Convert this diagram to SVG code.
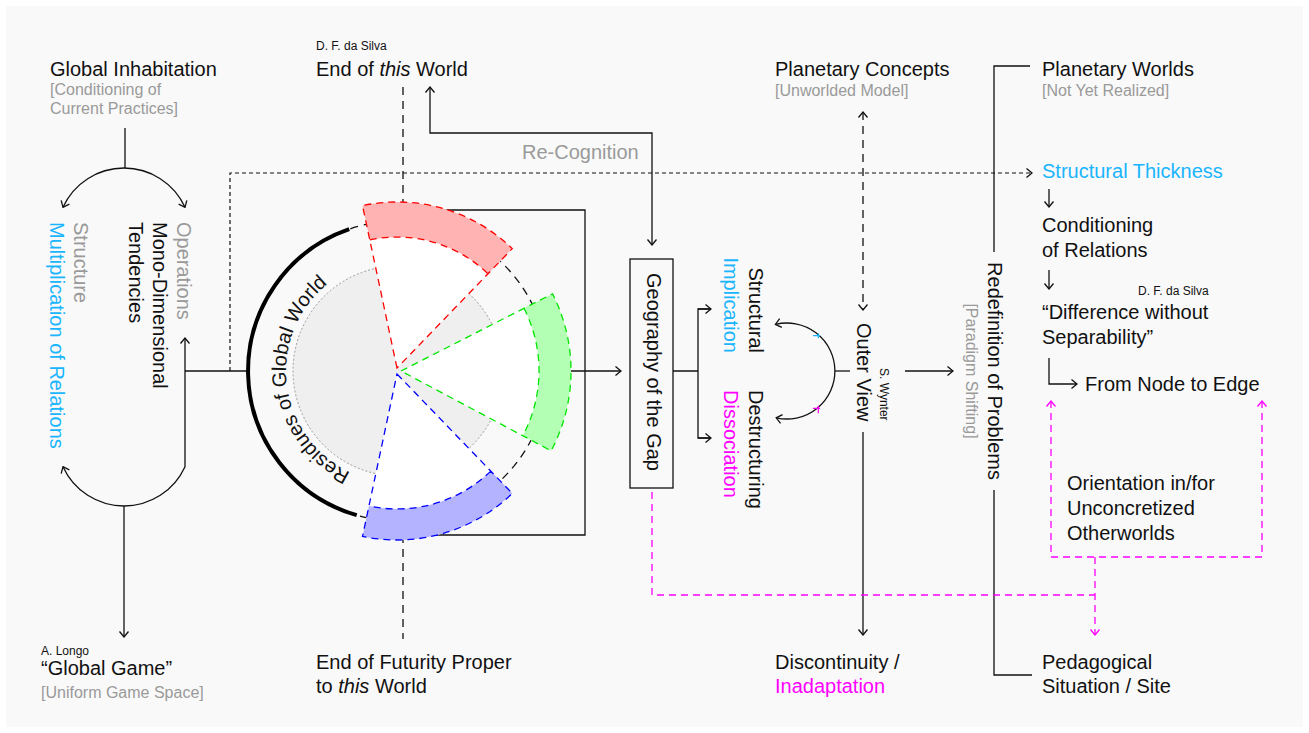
<svg xmlns="http://www.w3.org/2000/svg" width="1309" height="733" viewBox="0 0 1309 733">
<style>
text{font-family:"Liberation Sans",Arial,sans-serif;fill:#111;font-size:20px}
.g{fill:#9a9a9a}.s16{font-size:16px}.s12{font-size:12px}
.c{fill:#19b5fe}.m{fill:#ff00ff}
.ln{fill:none;stroke:#111;stroke-width:1.3}
.dot{fill:none;stroke:#111;stroke-width:1.2;stroke-dasharray:4 3}
.dsh{fill:none;stroke:#111;stroke-width:1.3;stroke-dasharray:8 6}
.mg{fill:none;stroke:#ff00ff;stroke-width:1.3;stroke-dasharray:7 5}
</style>
<defs>
<marker id="a" viewBox="-7 -6 8 12" refX="0" refY="0" markerWidth="8" markerHeight="12" markerUnits="userSpaceOnUse" orient="auto-start-reverse"><path d="M-5.5,-4.5 L0,0 L-5.5,4.5" fill="none" stroke="#111" stroke-width="1.3"/></marker>
<marker id="am" viewBox="-7 -6 8 12" refX="0" refY="0" markerWidth="8" markerHeight="12" markerUnits="userSpaceOnUse" orient="auto-start-reverse"><path d="M-5.5,-4.5 L0,0 L-5.5,4.5" fill="none" stroke="#ff00ff" stroke-width="1.3"/></marker>
<path id="resPath" d="M354.2,474.1 A112,112 0 0 1 330.6,281.6"/>
</defs>
<rect x="0" y="0" width="1309" height="733" fill="#ffffff"/>
<rect x="6" y="6" width="1297" height="721" fill="#f9f9f9"/>

<g id="connectors">
<path class="ln" d="M125,128 V168"/>
<path class="ln" d="M185,207.3 A67,67 0 0 0 63,207.3" marker-start="url(#a)" marker-end="url(#a)"/>
<path class="ln" d="M63,466.7 A67,67 0 0 0 185,466.7 V338" marker-start="url(#a)" marker-end="url(#a)"/>
<path class="ln" d="M124,506 V637" marker-end="url(#a)"/>
<path class="ln" d="M185,371 H248"/>
<path class="dot" d="M230,371 V173 H1032" marker-end="url(#a)"/>
<path class="dsh" d="M403,87 V639"/>
<path class="ln" d="M430,87 V133 H652 V245" marker-start="url(#a)" marker-end="url(#a)"/>
<path class="ln" d="M400,210 H585 V535 H400"/>
<path class="ln" d="M571,371 H621" marker-end="url(#a)"/>
<path class="ln" d="M673,371 H698 M711,309 H698 V438 H711" />
<path class="ln" d="M698,309 H711" marker-end="url(#a)"/>
<path class="ln" d="M698,438 H711" marker-end="url(#a)"/>
<path class="ln" d="M775.4,324.4 A48,48 0 1 1 776.2,417.8" marker-start="url(#a)" marker-end="url(#a)"/>
<path d="M813,335.7 H820 M818.3,333.3 V338.3" fill="none" stroke="#19b5fe" stroke-width="1.2"/>
<path d="M813,408.3 H820 M818.3,405.7 V413.3" fill="none" stroke="#ff00ff" stroke-width="1.2"/>
<path class="ln" d="M835,371 H850"/>
<path class="ln" d="M905,371 H953" marker-end="url(#a)"/>
<path class="dsh" d="M863,112 V310" marker-start="url(#a)" marker-end="url(#a)"/>
<path class="ln" d="M863,432 V635" marker-end="url(#a)"/>
<path class="ln" d="M1030,66 H994 V252 M994,490 V675 H1032"/>
<path class="ln" d="M1049,189 V207" marker-end="url(#a)"/>
<path class="ln" d="M1049,270 V289" marker-end="url(#a)"/>
<path class="ln" d="M1049,358 V384 H1077" marker-end="url(#a)"/>
<path class="mg" d="M652,492 V595 H1095"/>
<path class="mg" d="M1051,401 V557 H1262 V401" marker-start="url(#am)" marker-end="url(#am)"/>
<path class="mg" d="M1095,557 V635" marker-end="url(#am)"/>
</g>

<g id="globe">
<circle cx="398" cy="371" r="150" fill="none" stroke="#111" stroke-width="1.3" stroke-dasharray="8 6"/>
<path d="M349.2,229.2 A150,150 0 0 0 356.7,515.2" fill="none" stroke="#000" stroke-width="4"/>
<circle cx="398" cy="371" r="105" fill="#efefef" stroke="#999" stroke-width="1" stroke-dasharray="2 2"/>
<g id="sector-red">
<path d="M397,368 L362.5,205.6 A166,166 0 0 1 512.3,248.6 Z" fill="#ffffff"/>
<path d="M369.8,239.9 L362.5,205.6 A166,166 0 0 1 512.3,248.6 L488,273.8 A131,131 0 0 0 369.8,239.9 Z" fill="#ffb3b3"/>
<path d="M397,368 L362.5,205.6 A166,166 0 0 1 512.3,248.6 Z M369.8,239.9 A131,131 0 0 1 488,273.8" fill="none" stroke="#ff0000" stroke-width="1.3" stroke-dasharray="7 5"/>
</g>
<g id="sector-green">
<path d="M401,371 L552.5,293.8 A170,170 0 0 1 551.1,450.8 Z" fill="#ffffff"/>
<path d="M524,308.3 L552.5,293.8 A170,170 0 0 1 551.1,450.8 L522.8,435.8 A138,138 0 0 0 524,308.3 Z" fill="#b3ffb3"/>
<path d="M401,371 L552.5,293.8 A170,170 0 0 1 551.1,450.8 Z M524,308.3 A138,138 0 0 1 522.8,435.8" fill="none" stroke="#00e600" stroke-width="1.3" stroke-dasharray="7 5"/>
</g>
<g id="sector-blue">
<path d="M397,374 L512.3,493.4 A166,166 0 0 1 362.5,536.4 Z" fill="#ffffff"/>
<path d="M490.8,471.1 L512.3,493.4 A166,166 0 0 1 362.5,536.4 L368.9,506 A135,135 0 0 0 490.8,471.1 Z" fill="#b3b3ff"/>
<path d="M397,374 L512.3,493.4 A166,166 0 0 1 362.5,536.4 Z M490.8,471.1 A135,135 0 0 1 368.9,506" fill="none" stroke="#0000ff" stroke-width="1.3" stroke-dasharray="7 5"/>
</g>
<text><textPath href="#resPath" startOffset="50%" text-anchor="middle">Residues of Global World</textPath></text>
</g>

<g id="global-inhabitation"><text x="50" y="76">Global Inhabitation</text><text class="g s16" x="50" y="95">[Conditioning of</text><text class="g s16" x="50" y="114">Current Practices]</text></g>
<g id="structure" transform="translate(74,222) rotate(90)"><text class="g" x="0" y="0">Structure</text><text class="c" x="0" y="24">Multiplication of Relations</text></g>
<g id="operations" transform="translate(177,222) rotate(90)"><text class="g" x="0" y="0">Operations</text><text x="0" y="24">Mono-Dimensional</text><text x="0" y="48">Tendencies</text></g>
<g id="global-game"><text class="s12" x="41" y="655">A. Longo</text><text x="41" y="675">“Global Game”</text><text class="g s16" x="41" y="698">[Uniform Game Space]</text></g>
<g id="end-of-this-world"><text class="s12" x="316" y="50">D. F. da Silva</text><text x="316" y="76">End of <tspan font-style="italic">this</tspan> World</text></g>
<g id="end-of-futurity"><text x="316" y="669">End of Futurity Proper</text><text x="316" y="693">to <tspan font-style="italic">this</tspan> World</text></g>
<g id="re-cognition"><text class="g" x="522" y="159">Re-Cognition</text></g>
<g id="geography-of-the-gap"><rect x="630" y="259" width="43" height="229" fill="none" stroke="#111" stroke-width="1.3"/><text transform="translate(647,372) rotate(90)" text-anchor="middle">Geography of the Gap</text></g>
<g id="structural-implication" transform="translate(749,353) rotate(90)"><text text-anchor="end" x="0" y="0">Structural</text><text class="c" text-anchor="end" x="0" y="25">Implication</text></g>
<g id="destructuring-dissociation" transform="translate(749,390) rotate(90)"><text x="0" y="0">Destructuring</text><text class="m" x="0" y="25">Dissociation</text></g>
<g id="outer-view"><text transform="translate(857,323) rotate(90)">Outer View</text><text class="s12" transform="translate(880,368) rotate(90)">S. Wynter</text></g>
<g id="planetary-concepts"><text x="775" y="76">Planetary Concepts</text><text class="g s16" x="775" y="96">[Unworlded Model]</text></g>
<g id="discontinuity"><text x="775" y="669">Discontinuity /</text><text class="m" x="775" y="693">Inadaptation</text></g>
<g id="redefinition" transform="translate(988,371) rotate(90)"><text text-anchor="middle" x="0" y="0">Redefinition of Problems</text><text class="g s16" text-anchor="middle" x="0" y="22">[Paradigm Shifting]</text></g>
<g id="planetary-worlds"><text x="1042" y="76">Planetary Worlds</text><text class="g s16" x="1042" y="96">[Not Yet Realized]</text></g>
<g id="structural-thickness"><text class="c" x="1042" y="178">Structural Thickness</text></g>
<g id="conditioning-of-relations"><text x="1042" y="232">Conditioning</text><text x="1042" y="257">of Relations</text></g>
<g id="difference-without-separability"><text class="s12" x="1138" y="295">D. F. da Silva</text><text x="1042" y="319">“Difference without</text><text x="1042" y="344">Separability”</text></g>
<g id="from-node-to-edge"><text x="1085" y="391">From Node to Edge</text></g>
<g id="orientation"><text x="1067" y="490">Orientation in/for</text><text x="1067" y="515">Unconcretized</text><text x="1067" y="540">Otherworlds</text></g>
<g id="pedagogical-situation"><text x="1042" y="669">Pedagogical</text><text x="1042" y="693">Situation / Site</text></g>
</svg>
